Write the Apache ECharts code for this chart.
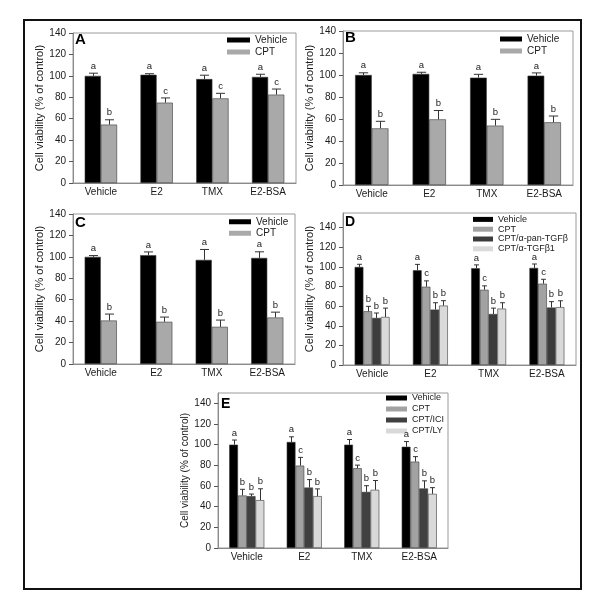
<!DOCTYPE html>
<html><head><meta charset="utf-8">
<script src="https://cdn.jsdelivr.net/npm/echarts@6/dist/echarts.min.js"></script>
<style>html,body{margin:0;padding:0;background:#fff}#c{width:600px;height:602px}</style>
</head><body><div id="c"></div>
<script>
const categories = ['Vehicle', 'E2', 'TMX', 'E2-BSA'];
const yTicks = [0, 20, 40, 60, 80, 100, 120, 140];
const yTitle = 'Cell viability (% of control)';

// Panel A
const aVehicle = [100, 101, 97, 99];
const aVehicleErr = [2.5, 1, 3.6, 2.5];
const aVehicleSig = ['a', 'a', 'a', 'a'];
const aCPT = [54.5, 75, 79, 82.5];
const aCPTErr = [4.5, 4.4, 4.7, 5.2];
const aCPTSig = ['b', 'c', 'c', 'c'];

// Panel B
const bVehicle = [100, 101, 97.6, 99.4];
const bVehicleErr = [2, 1.5, 3, 2.5];
const bVehicleSig = ['a', 'a', 'a', 'a'];
const bCPT = [51.5, 59.7, 54, 57];
const bCPTErr = [6.4, 8, 5.7, 5.7];
const bCPTSig = ['b', 'b', 'b', 'b'];

// Panel C
const cVehicle = [100, 101.6, 97.2, 99];
const cVehicleErr = [1.2, 3, 9.7, 5.7];
const cVehicleSig = ['a', 'a', 'a', 'a'];
const cCPT = [40.6, 39.4, 34.7, 43.4];
const cCPTErr = [6, 4.4, 6.3, 5];
const cCPTSig = ['b', 'b', 'b', 'b'];

// Panel D
const dVehicle = [100, 96.6, 98.6, 99];
const dVehicleErr = [2.7, 6, 3.5, 4];
const dVehicleSig = ['a', 'a', 'a', 'a'];
const dCPT = [54.8, 79.8, 76.7, 82.9];
const dCPTErr = [5, 6, 4, 4.5];
const dCPTSig = ['b', 'c', 'c', 'c'];
const dPan = [48, 56.5, 52, 58.6];
const dPanErr = [5, 7, 6, 6];
const dPanSig = ['b', 'b', 'b', 'b'];
const dB1 = [49, 60.6, 57.5, 59];
const dB1Err = [9, 5, 6, 6.5];
const dB1Sig = ['b', 'b', 'b', 'b'];

// Panel E
const eVehicle = [100, 102.6, 100, 98];
const eVehicleErr = [4.5, 5, 5, 5];
const eVehicleSig = ['a', 'a', 'a', 'a'];
const eCPT = [50.8, 79.7, 77.2, 83.6];
const eCPTErr = [6, 8, 3, 4.8];
const eCPTSig = ['b', 'c', 'c', 'c'];
const eICI = [50.2, 58.5, 54.3, 57.6];
const eICIErr = [2, 7.7, 6, 7.4];
const eICISig = ['b', 'b', 'b', 'b'];
const eLY = [46.3, 50.2, 56.3, 52.4];
const eLYErr = [11, 7, 9, 6];
const eLYSig = ['b', 'b', 'b', 'b'];

const FONT = 'Liberation Sans, Arial, sans-serif';
const TXT = '#1a1a1a';

const panels = [
  {letter: 'A', grid: {left: 73, top: 33, width: 223, height: 150}, max: 140, gap: 0.42, nameGap: 24, nameSize: 11,
   legend: {left: 227, top: 34, fontSize: 10, lh: 12, w: 23},
   title: {left: 75, top: 32, size: 15},
   series: [['Vehicle', '#000000', aVehicle, aVehicleErr, aVehicleSig], ['CPT', '#a9a9a9', aCPT, aCPTErr, aCPTSig]]},
  {letter: 'B', grid: {left: 343, top: 31, width: 230, height: 154}, max: 140, gap: 0.42, nameGap: 24, nameSize: 11,
   legend: {left: 500, top: 33, fontSize: 10, lh: 12, w: 22},
   title: {left: 345, top: 30, size: 15},
   series: [['Vehicle', '#000000', bVehicle, bVehicleErr, bVehicleSig], ['CPT', '#a9a9a9', bCPT, bCPTErr, bCPTSig]]},
  {letter: 'C', grid: {left: 73, top: 214, width: 222, height: 150}, max: 140, gap: 0.42, nameGap: 24, nameSize: 11,
   legend: {left: 229, top: 216, fontSize: 10, lh: 11.5, w: 22},
   title: {left: 75, top: 215, size: 15},
   series: [['Vehicle', '#000000', cVehicle, cVehicleErr, cVehicleSig], ['CPT', '#a9a9a9', cCPT, cCPTErr, cCPTSig]]},
  {letter: 'D', grid: {left: 343, top: 213, width: 233, height: 152}, max: 155, gap: 0.40, nameGap: 24, nameSize: 11,
   legend: {left: 473, top: 214.5, fontSize: 9, lh: 9.8, w: 20},
   title: {left: 345, top: 215, size: 14},
   series: [['Vehicle', '#000000', dVehicle, dVehicleErr, dVehicleSig], ['CPT', '#a2a2a2', dCPT, dCPTErr, dCPTSig],
            ['CPT/α-pan-TGFβ', '#3c3c3c', dPan, dPanErr, dPanSig], ['CPT/α-TGFβ1', '#dadada', dB1, dB1Err, dB1Sig]]},
  {letter: 'E', grid: {left: 218, top: 393, width: 230, height: 155}, max: 150, gap: 0.39, nameGap: 25, nameSize: 10,
   legend: {left: 386, top: 392.5, fontSize: 9, lh: 11, w: 21},
   title: {left: 221, top: 397, size: 14},
   series: [['Vehicle', '#000000', eVehicle, eVehicleErr, eVehicleSig], ['CPT', '#a2a2a2', eCPT, eCPTErr, eCPTSig],
            ['CPT/ICI', '#404040', eICI, eICIErr, eICISig], ['CPT/LY', '#d9d9d9', eLY, eLYErr, eLYSig]]}
];

const grids = [], xAxes = [], yAxes = [], series = [], legends = [], titles = [];

panels.forEach((p, gi) => {
  grids.push(Object.assign({show: true, borderColor: '#9a9a9a', borderWidth: 1, backgroundColor: 'transparent'}, p.grid));
  xAxes.push({
    type: 'category', gridIndex: gi, data: categories,
    axisLine: {lineStyle: {color: '#8a8a8a', width: 1}},
    axisTick: {show: false},
    axisLabel: {color: TXT, fontSize: 10, fontFamily: FONT, margin: 4}
  });
  yAxes.push({
    type: 'value', gridIndex: gi, min: 0, max: p.max,
    name: yTitle, nameLocation: 'middle', nameGap: p.nameGap,
    nameTextStyle: {color: TXT, fontSize: p.nameSize, fontFamily: FONT},
    axisLine: {show: true, lineStyle: {color: '#8a8a8a', width: 1}},
    axisTick: {show: true, length: 4, customValues: yTicks, lineStyle: {color: '#555'}},
    axisLabel: {color: TXT, fontSize: 10, fontFamily: FONT, margin: 7, customValues: yTicks},
    splitLine: {show: false}
  });
  titles.push({text: p.letter, left: p.title.left, top: p.title.top, padding: 0,
    textStyle: {fontSize: p.title.size, fontWeight: 'bold', color: '#000', fontFamily: FONT}});
  const n = p.series.length;
  const names = [];
  p.series.forEach((s, i) => {
    const sname = s[0] + '|' + p.letter;
    names.push(sname);
    series.push({
      type: 'bar', name: sname, xAxisIndex: gi, yAxisIndex: gi,
      data: s[2], barGap: '0%', barCategoryGap: (p.gap * 100) + '%',
      itemStyle: {color: s[1], borderColor: '#3a3a3a', borderWidth: 0.6},
      silent: true, z: 2
    });
    const vals = s[2], errs = s[3], sigs = s[4], gap = p.gap;
    series.push({
      type: 'custom', xAxisIndex: gi, yAxisIndex: gi, silent: true, z: 5,
      data: vals.map((v, k) => [k, v, errs[k]]),
      renderItem: (params, api) => {
        const k = api.value(0), v = api.value(1), e = api.value(2);
        const band = api.size([1, 0])[0];
        const total = band * (1 - gap);
        const bw = total / n;
        const base = api.coord([k, v]);
        const cx = Math.round(base[0] - total / 2 + (i + 0.5) * bw) + 0.5;
        const top = api.coord([k, v + e])[1];
        const hw = Math.max(2, bw * 0.28);
        return {type: 'group', children: [
          {type: 'line', shape: {x1: cx, y1: base[1], x2: cx, y2: top}, style: {stroke: '#333', lineWidth: 1}},
          {type: 'line', shape: {x1: cx - hw, y1: top, x2: cx + hw, y2: top}, style: {stroke: '#333', lineWidth: 1}},
          {type: 'text', x: cx, y: top - 2, style: {text: sigs[k], fill: '#222', font: '9.5px ' + FONT, textAlign: 'center', textVerticalAlign: 'bottom'}}
        ]};
      }
    });
  });
  legends.push({
    data: names, orient: 'vertical', left: p.legend.left, top: p.legend.top,
    itemWidth: p.legend.w, itemHeight: 5, itemGap: 0, padding: 0, icon: 'rect',
    selectedMode: false,
    itemStyle: {borderWidth: 0},
    formatter: nm => nm.split('|')[0],
    textStyle: {fontSize: p.legend.fontSize, lineHeight: p.legend.lh, color: TXT, fontFamily: FONT}
  });
});

const chart = echarts.init(document.getElementById('c'), null, {renderer: 'canvas'});
chart.setOption({
  animation: false,
  backgroundColor: '#fff',
  title: titles,
  grid: grids, xAxis: xAxes, yAxis: yAxes, legend: legends, series: series,
  graphic: [{type: 'rect', shape: {x: 24, y: 20, width: 557, height: 569}, style: {fill: 'none', stroke: '#111', lineWidth: 2}, silent: true}]
});
</script></body></html>
